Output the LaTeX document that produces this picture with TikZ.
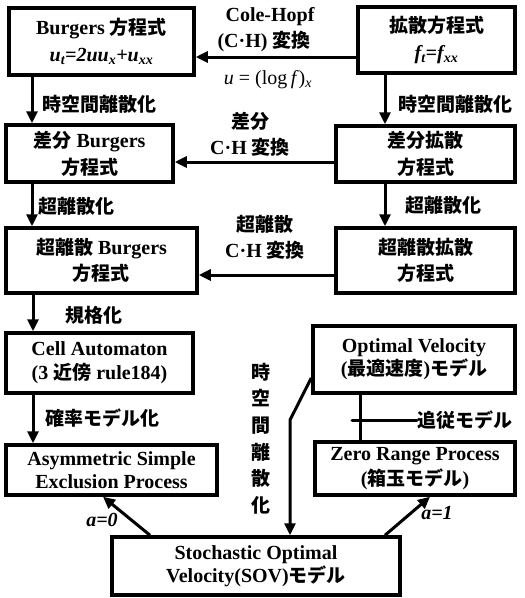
\documentclass[tikz,border=0pt]{standalone}
\usepackage{fontspec}
\setmainfont{Liberation Serif}
\IfFontExistsTF{Noto Sans CJK JP Bold}{\newfontfamily\jp{Noto Sans CJK JP Bold}[Scale=0.95]}{\newfontfamily\jp{Noto Sans CJK JP}[Scale=0.95]}
\newcommand\jt[1]{{\jp #1}}
\usetikzlibrary{arrows.meta,calc}
\tikzset{
  box/.style={draw, line width=3.5pt, align=center, inner sep=0pt,
    font=\bfseries\fontsize{20}{25}\selectfont},
  lab/.style={inner sep=0pt, align=center, font=\bfseries\fontsize{20}{26}\selectfont},
  arr/.style={line width=3pt, -{Triangle[length=12pt,width=11pt]}},
  ln/.style={line width=3pt}
}
\begin{document}
\begin{tikzpicture}[x=1pt,y=-1pt]
\useasboundingbox (0,0) rectangle (525,598);
% boxes
\node[box, minimum width=185pt, minimum height=67pt, font=\bfseries\fontsize{20}{27}\selectfont] (burg) at (101.5,41.5)
  {Burgers \jt{方程式}\\\textit{u\textsubscript{t}=2uu\textsubscript{x}+u\textsubscript{xx}}};
\node[box, minimum width=157pt, minimum height=66pt, font=\bfseries\fontsize{20}{27}\selectfont] (diff) at (436.5,40)
  {\jt{拡散方程式}\\\textit{f\textsubscript{t}=f\textsubscript{xx}}};
\node[box, minimum width=167pt, minimum height=57pt, font=\bfseries\fontsize{20}{27}\selectfont] (dburg) at (89.5,153.5)
  {\jt{差分} Burgers\\\jt{方程式}};
\node[box, minimum width=179pt, minimum height=56pt, font=\bfseries\fontsize{20}{27}\selectfont] (ddiff) at (425.5,154)
  {\jt{差分拡散}\\\jt{方程式}};
\node[box, minimum width=191pt, minimum height=65pt, font=\bfseries\fontsize{20}{26}\selectfont] (uburg) at (101.5,260.5)
  {\jt{超離散} Burgers\\\jt{方程式}};
\node[box, minimum width=179pt, minimum height=65pt, font=\bfseries\fontsize{20}{26}\selectfont] (udiff) at (425.5,260.5)
  {\jt{超離散拡散}\\\jt{方程式}};
\node[box, minimum width=187pt, minimum height=60pt, font=\bfseries\fontsize{20}{24}\selectfont] (ca) at (99.5,363)
  {Cell Automaton\\(3 \jt{近傍} rule184)};
\node[box, minimum width=211pt, minimum height=50pt, font=\bfseries\fontsize{20}{23}\selectfont] (asep) at (111.5,470)
  {Asymmetric Simple\\Exclusion Process};
\node[box, minimum width=202pt, minimum height=67pt, font=\bfseries\fontsize{20}{23}\selectfont] (ov) at (414,359.5)
  {Optimal Velocity\\(\jt{最適速度})\jt{モデル}};
\node[box, minimum width=200pt, minimum height=53pt, font=\bfseries\fontsize{20}{25}\selectfont] (zrp) at (415,468.5)
  {Zero Range Process\\(\jt{箱玉モデル})};
\node[box, minimum width=288pt, minimum height=58pt, font=\bfseries\fontsize{20}{23}\selectfont] (sov) at (256,566)
  {Stochastic Optimal\\Velocity(SOV)\jt{モデル}};
% labels
\node[lab] (ch1a) at (270,17) {Cole-Hopf};
\node[lab] (ch1b) at (264,41) {(C·H) \jt{変換}};
\node[inner sep=0pt, font=\fontsize{20}{24}\selectfont] (ch1c) at (268,80) {\textit{u} = (log\,\textit{f})\textsubscript{\textit{x}}};
\node[lab] (ch2) at (250,134) {\jt{差分}\\C·H \jt{変換}};
\node[lab] (ch3) at (265,237) {\jt{超離散}\\C·H \jt{変換}};
\node[lab, anchor=west] (l1) at (42,104) {\jt{時空間離散化}};
\node[lab, anchor=west] (l2) at (398,104) {\jt{時空間離散化}};
\node[lab, anchor=west] (l3) at (38,206) {\jt{超離散化}};
\node[lab, anchor=west] (l4) at (405,205) {\jt{超離散化}};
\node[lab, anchor=west] (l5) at (65,315) {\jt{規格化}};
\node[lab, anchor=west] (l6) at (45,418) {\jt{確率モデル化}};
\node[lab, anchor=west] (l7) at (417,420) {\jt{追従モデル}};
\node[lab, font=\bfseries\fontsize{20}{26.6}\selectfont] (l8) at (261,438.5) {\jt{時}\\\jt{空}\\\jt{間}\\\jt{離}\\\jt{散}\\\jt{化}};
\node[lab] (a0) at (102,520) {\textit{a=0}};
\node[lab] (a1) at (437,513) {\textit{a=1}};
% connectors
\draw[arr] (diff.west |- 0,57) -- (burg.east |- 0,57);
\draw[arr] (ddiff.west |- 0,162) -- (dburg.east |- 0,162);
\draw[arr] (udiff.west |- 0,275) -- (uburg.east |- 0,275);
\draw[arr] (burg.south -| 32,0) -- (dburg.north -| 32,0);
\draw[arr] (dburg.south -| 32,0) -- (uburg.north -| 32,0);
\draw[arr] (uburg.south -| 33,0) -- (ca.north -| 33,0);
\draw[arr] (ca.south -| 33,0) -- (asep.north -| 33,0);
\draw[arr] (diff.south -| 385,0) -- (ddiff.north -| 385,0);
\draw[arr] (ddiff.south -| 385,0) -- (udiff.north -| 385,0);
\draw[ln] (ov.south -| 360,0) -- (zrp.north -| 360,0);
\coordinate (fl) at (352,420);
\draw[ln, line cap=round] (fl) -- (l7.west);
\coordinate (bend) at (290,420);
\draw[arr] (ov.west |- 0,378) -- (bend) -- (sov.north -| 290,0);
\draw[arr] (sov.north -| 150,0) -- (asep.south -| 103,0);
\draw[arr] (sov.north -| 385,0) -- (zrp.south -| 430,0);
\end{tikzpicture}
\end{document}
